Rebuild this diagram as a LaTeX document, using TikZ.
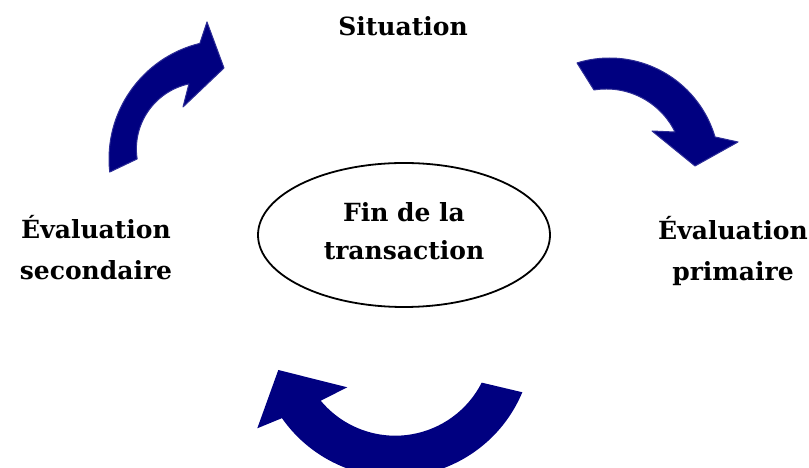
\documentclass[tikz,border=0pt]{standalone}
\usepackage{fontspec}
\setmainfont{DejaVu Serif}
\usepackage{tikz}
\usetikzlibrary{shapes.geometric}

\definecolor{arrowblue}{RGB}{0,0,128}
\definecolor{arrowrim}{RGB}{45,45,150}

\begin{document}
\begin{tikzpicture}[x=1pt, y=1pt,
  stagetext/.style={font=\fontsize{25}{41}\selectfont\bfseries, align=center, inner sep=0pt},
  cyclearrow/.style={fill=arrowblue, draw=arrowrim, line width=1pt, line join=round}]
\useasboundingbox (0,0) rectangle (809,468);

\node[ellipse, draw, line width=1.8pt, minimum width=292, minimum height=144] (fin) at (404,233) {};
\node[stagetext, font=\fontsize{25}{38}\selectfont\bfseries] (fintext) at ([yshift=3.6]fin.center) {Fin de la\\transaction};
\node[stagetext, anchor=base] (situation) at (403,432) {Situation};
\node[stagetext] (secondaire) at (96,220.2) {Évaluation\\secondaire};
\node[stagetext] (primaire) at (733,217.2) {Évaluation\\primaire};

\draw[cyclearrow] ([shift={(107.2:110)}]609.5,300) arc[start angle=107.2, end angle=16.4, radius=110]
  -- (738,326) -- (695,302) -- (652,337)
  -- ([shift={(26:76.6)}]606.2,302.4) arc[start angle=26, end angle=99.2, radius=76.6] -- cycle;
\draw[cyclearrow, draw=none] ([shift={(-22.7:138)}]395,129) arc[start angle=-22.7, end angle=-145, radius=138]
  -- (257.3,39.7) -- (278.3,98) -- (347.3,80.7)
  -- ([shift={(219.7:96.9)}]395.3,129.2) arc[start angle=219.7, end angle=333.1, radius=96.9] -- cycle;
\draw[cyclearrow] ([shift={(186.3:119)}]228,309) arc[start angle=186.3, end angle=103.7, radius=119]
  -- (207,446) -- (224,400) -- (183,361)
  -- ([shift={(102.2:66.6)}]203,319) arc[start angle=102.2, end angle=188.6, radius=66.6] -- cycle;
\end{tikzpicture}
\end{document}
